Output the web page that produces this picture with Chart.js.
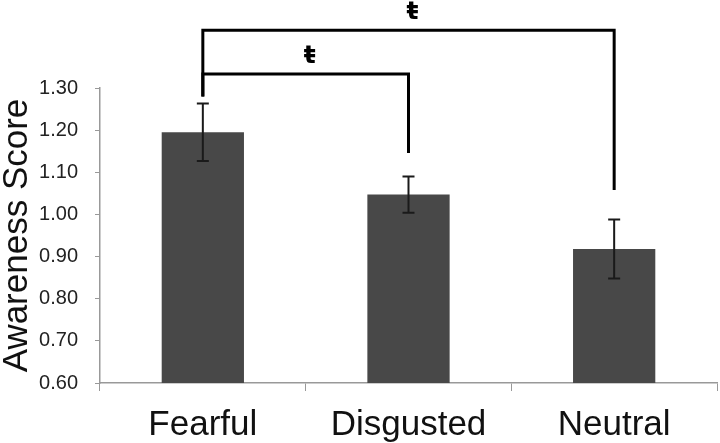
<!DOCTYPE html>
<html>
<head>
<meta charset="utf-8">
<script src="https://cdn.jsdelivr.net/npm/chart.js@4.4.1/dist/chart.umd.min.js"></script>
<style>
  html, body { margin: 0; padding: 0; background: #fff; }
  #wrap { width: 720px; height: 443px; }
</style>
</head>
<body>
<div id="wrap"><canvas id="awarenessChart"></canvas></div>
<script>
// Mean awareness score per emotion, with error bar half-widths
const categories = ["Fearful", "Disgusted", "Neutral"];
const means = [1.195, 1.047, 0.918];
const errors = [0.068, 0.043, 0.07];
const yTicks = [0.6, 0.7, 0.8, 0.9, 1.0, 1.1, 1.2, 1.3];

// Significance brackets (values in score units)
const bracketFrom = [0, 0];
const bracketTo = [1, 2];
const bracketTop = [1.333, 1.437];
const bracketLeftEnd = [1.28, 1.28];
const bracketRightEnd = [1.146, 1.058];
const bracketMark = ["ŧ", "ŧ"];

const errorBars = {
    id: "errorBars",
    afterDatasetsDraw(chart) {
        const ctx = chart.ctx;
        const y = chart.scales.y;
        const meta = chart.getDatasetMeta(0);
        ctx.save();
        ctx.strokeStyle = "#1a1a1a";
        ctx.lineWidth = 2;
        meta.data.forEach((bar, i) => {
            const x = bar.x;
            const top = y.getPixelForValue(means[i] + errors[i]);
            const bot = y.getPixelForValue(means[i] - errors[i]);
            ctx.beginPath();
            ctx.moveTo(x, top); ctx.lineTo(x, bot);
            ctx.moveTo(x - 6, top); ctx.lineTo(x + 6, top);
            ctx.moveTo(x - 6, bot); ctx.lineTo(x + 6, bot);
            ctx.stroke();
        });
        ctx.restore();
    },
    afterDraw(chart) {
        const ctx = chart.ctx;
        const y = chart.scales.y;
        const x = chart.scales.x;
        ctx.save();
        ctx.strokeStyle = "#000";
        ctx.lineWidth = 3;
        bracketFrom.forEach((a, i) => {
            const x1 = x.getPixelForValue(a);
            const x2 = x.getPixelForValue(bracketTo[i]);
            const yt = y.getPixelForValue(bracketTop[i]);
            ctx.beginPath();
            ctx.moveTo(x1, y.getPixelForValue(bracketLeftEnd[i]));
            ctx.lineTo(x1, yt);
            ctx.lineTo(x2, yt);
            ctx.lineTo(x2, y.getPixelForValue(bracketRightEnd[i]));
            ctx.stroke();
            ctx.fillStyle = "#000";
            ctx.font = "bold 25px 'DejaVu Sans'";
            ctx.textAlign = "center";
            ctx.textBaseline = "middle";
            ctx.fillText(bracketMark[i], (x1 + x2) / 2 + 4, yt - 18);
        });
        ctx.restore();
    }
};

new Chart(document.getElementById("awarenessChart"), {
    type: "bar",
    data: {
        labels: categories,
        datasets: [{
            data: means,
            backgroundColor: "#484848",
            borderWidth: 0,
            categoryPercentage: 1,
            barPercentage: 0.4
        }]
    },
    options: {
        responsive: true,
        maintainAspectRatio: false,
        animation: false,
        layout: {padding: {top: 88, right: 3, left: 0, bottom: 0}},
        plugins: {legend: {display: false}, tooltip: {enabled: false}},
        scales: {
            x: {
                afterFit: axis => { axis.height = 60; },
                grid: {offset: true, drawOnChartArea: false, drawTicks: true, tickLength: 8, color: "#999"},
                border: {color: "#999", width: 1.5},
                ticks: {color: "#111", font: {family: "Liberation Sans", size: 35, lineHeight: 1}, padding: 17}
            },
            y: {
                min: 0.6,
                max: 1.3,
                afterBuildTicks: axis => { axis.ticks = yTicks.map(v => ({value: v})); },
                afterFit: axis => { axis.width = 100; },
                grid: {drawOnChartArea: false, tickLength: 5, color: "#999"},
                border: {color: "#999", width: 1.5},
                ticks: {
                    color: "#222",
                    font: {family: "Liberation Sans", size: 20},
                    padding: 17,
                    callback: v => v.toFixed(2)
                },
                title: {
                    display: true,
                    text: "Awareness Score",
                    color: "#111",
                    font: {family: "Liberation Sans", size: 35, lineHeight: 1},
                    padding: {top: 0, bottom: 0}
                }
            }
        }
    },
    plugins: [errorBars]
});
</script>
</body>
</html>
